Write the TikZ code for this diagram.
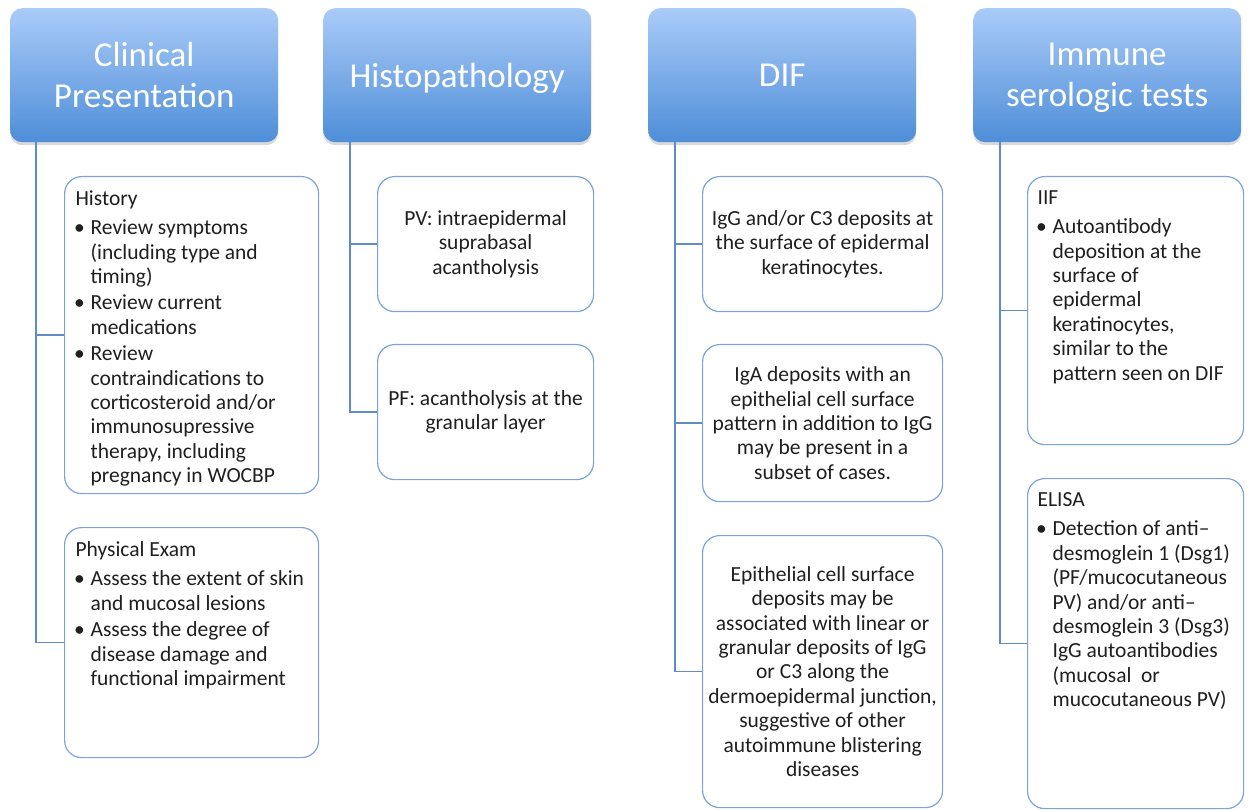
\documentclass[tikz,border=0pt]{standalone}
\usepackage{fontspec}
\setmainfont{Carlito}
\usetikzlibrary{shadows}
\definecolor{headtop}{RGB}{170,203,248}
\definecolor{headbot}{RGB}{78,142,216}
\definecolor{cardline}{RGB}{125,164,214}
\definecolor{linkline}{RGB}{95,140,200}
\newcommand{\bitem}{\par\vspace{2pt}\hangindent=15pt\hangafter=1\noindent\makebox[15pt][l]{\hspace{-1.5pt}\textbullet}}

\begin{document}
\begin{tikzpicture}[x=1pt,y=-1pt,
  head/.style={anchor=north west,rounded corners=12pt,top color=headtop,bottom color=headbot,
    minimum width=268pt,minimum height=134pt,text=white,align=center,text depth=-5pt,
    font=\fontsize{35}{41}\selectfont,
    drop shadow={opacity=.3,shadow xshift=0pt,shadow yshift=-3pt}},
  card/.style={anchor=north west,draw=cardline,line width=1.2pt,rounded corners=17pt,
    font=\fontsize{21.5}{24.4}\selectfont,text=black!88,align=center,inner sep=0pt},
  link/.style={draw=linkline,line width=1.3pt}]
\useasboundingbox (0,0) rectangle (1251,810);

% column headers
\node[head] (cp) at (10,8) {Clinical\\Presentation};
\node[head] (hp) at (323,8) {Histopathology};
\node[head] (dif) at (648,8) {DIF};
\node[head] (ist) at (973,8) {Immune\\serologic tests};

% clinical presentation
\node[card,minimum width=254pt,minimum height=317pt] (c1) at (64,176)
  {\parbox[t][289pt][t]{232pt}{History\vspace{3pt}
   \bitem Review symptoms\\(including type and\\timing)
   \bitem Review current\\medications
   \bitem Review\\contraindications to\\corticosteroid and/or\\immunosupressive\\therapy, including\\pregnancy in WOCBP}};
\node[card,minimum width=254pt,minimum height=230pt] (c2) at (64,527)
  {\parbox[t][202pt][t]{232pt}{Physical Exam\vspace{3pt}
   \bitem Assess the extent of skin\\and mucosal lesions
   \bitem Assess the degree of\\disease damage and\\functional impairment}};

% histopathology
\node[card,minimum width=216pt,minimum height=135pt] (h1) at (377,176)
  {PV: intraepidermal\\suprabasal\\acantholysis};
\node[card,minimum width=216pt,minimum height=135pt] (h2) at (377,344)
  {PF: acantholysis at the\\granular layer};

% DIF
\node[card,minimum width=240pt,minimum height=135pt] (d1) at (702,176)
  {IgG and/or C3 deposits at\\the surface of epidermal\\keratinocytes.};
\node[card,minimum width=240pt,minimum height=157pt] (d2) at (702,344)
  {IgA deposits with an\\epithelial cell surface\\pattern in addition to IgG\\may be present in a\\subset of cases.};
\node[card,minimum width=240pt,minimum height=272pt] (d3) at (702,535)
  {Epithelial cell surface\\deposits may be\\associated with linear or\\granular deposits of IgG\\or C3 along the\\dermoepidermal junction,\\suggestive of other\\autoimmune blistering\\diseases};

% immune serologic tests
\node[card,minimum width=216pt,minimum height=268pt] (s1) at (1027,176)
  {\parbox[t][240pt][t]{196pt}{IIF\vspace{3pt}
   \bitem Autoantibody\\deposition at the\\surface of\\epidermal\\keratinocytes,\\similar to the\\pattern seen on DIF}};
\node[card,minimum width=216pt,minimum height=330pt] (s2) at (1027,478)
  {\parbox[t][302pt][t]{196pt}{ELISA\vspace{3pt}
   \bitem Detection of anti–\\desmoglein 1 (Dsg1)\\(PF/mucocutaneous\\PV) and/or anti–\\desmoglein 3 (Dsg3)\\IgG autoantibodies\\(mucosal\ \ or\\mucocutaneous PV)}};

% connectors
\draw[link] ([xshift=26pt]cp.south west) |- (c1.west);
\draw[link] ([xshift=26pt]cp.south west) |- (c2.west);
\draw[link] ([xshift=27pt]hp.south west) |- (h1.west);
\draw[link] ([xshift=27pt]hp.south west) |- (h2.west);
\draw[link] ([xshift=27pt]dif.south west) |- (d1.west);
\draw[link] ([xshift=27pt]dif.south west) |- (d2.west);
\draw[link] ([xshift=27pt]dif.south west) |- (d3.west);
\draw[link] ([xshift=27pt]ist.south west) |- (s1.west);
\draw[link] ([xshift=27pt]ist.south west) |- (s2.west);
\end{tikzpicture}
\end{document}
